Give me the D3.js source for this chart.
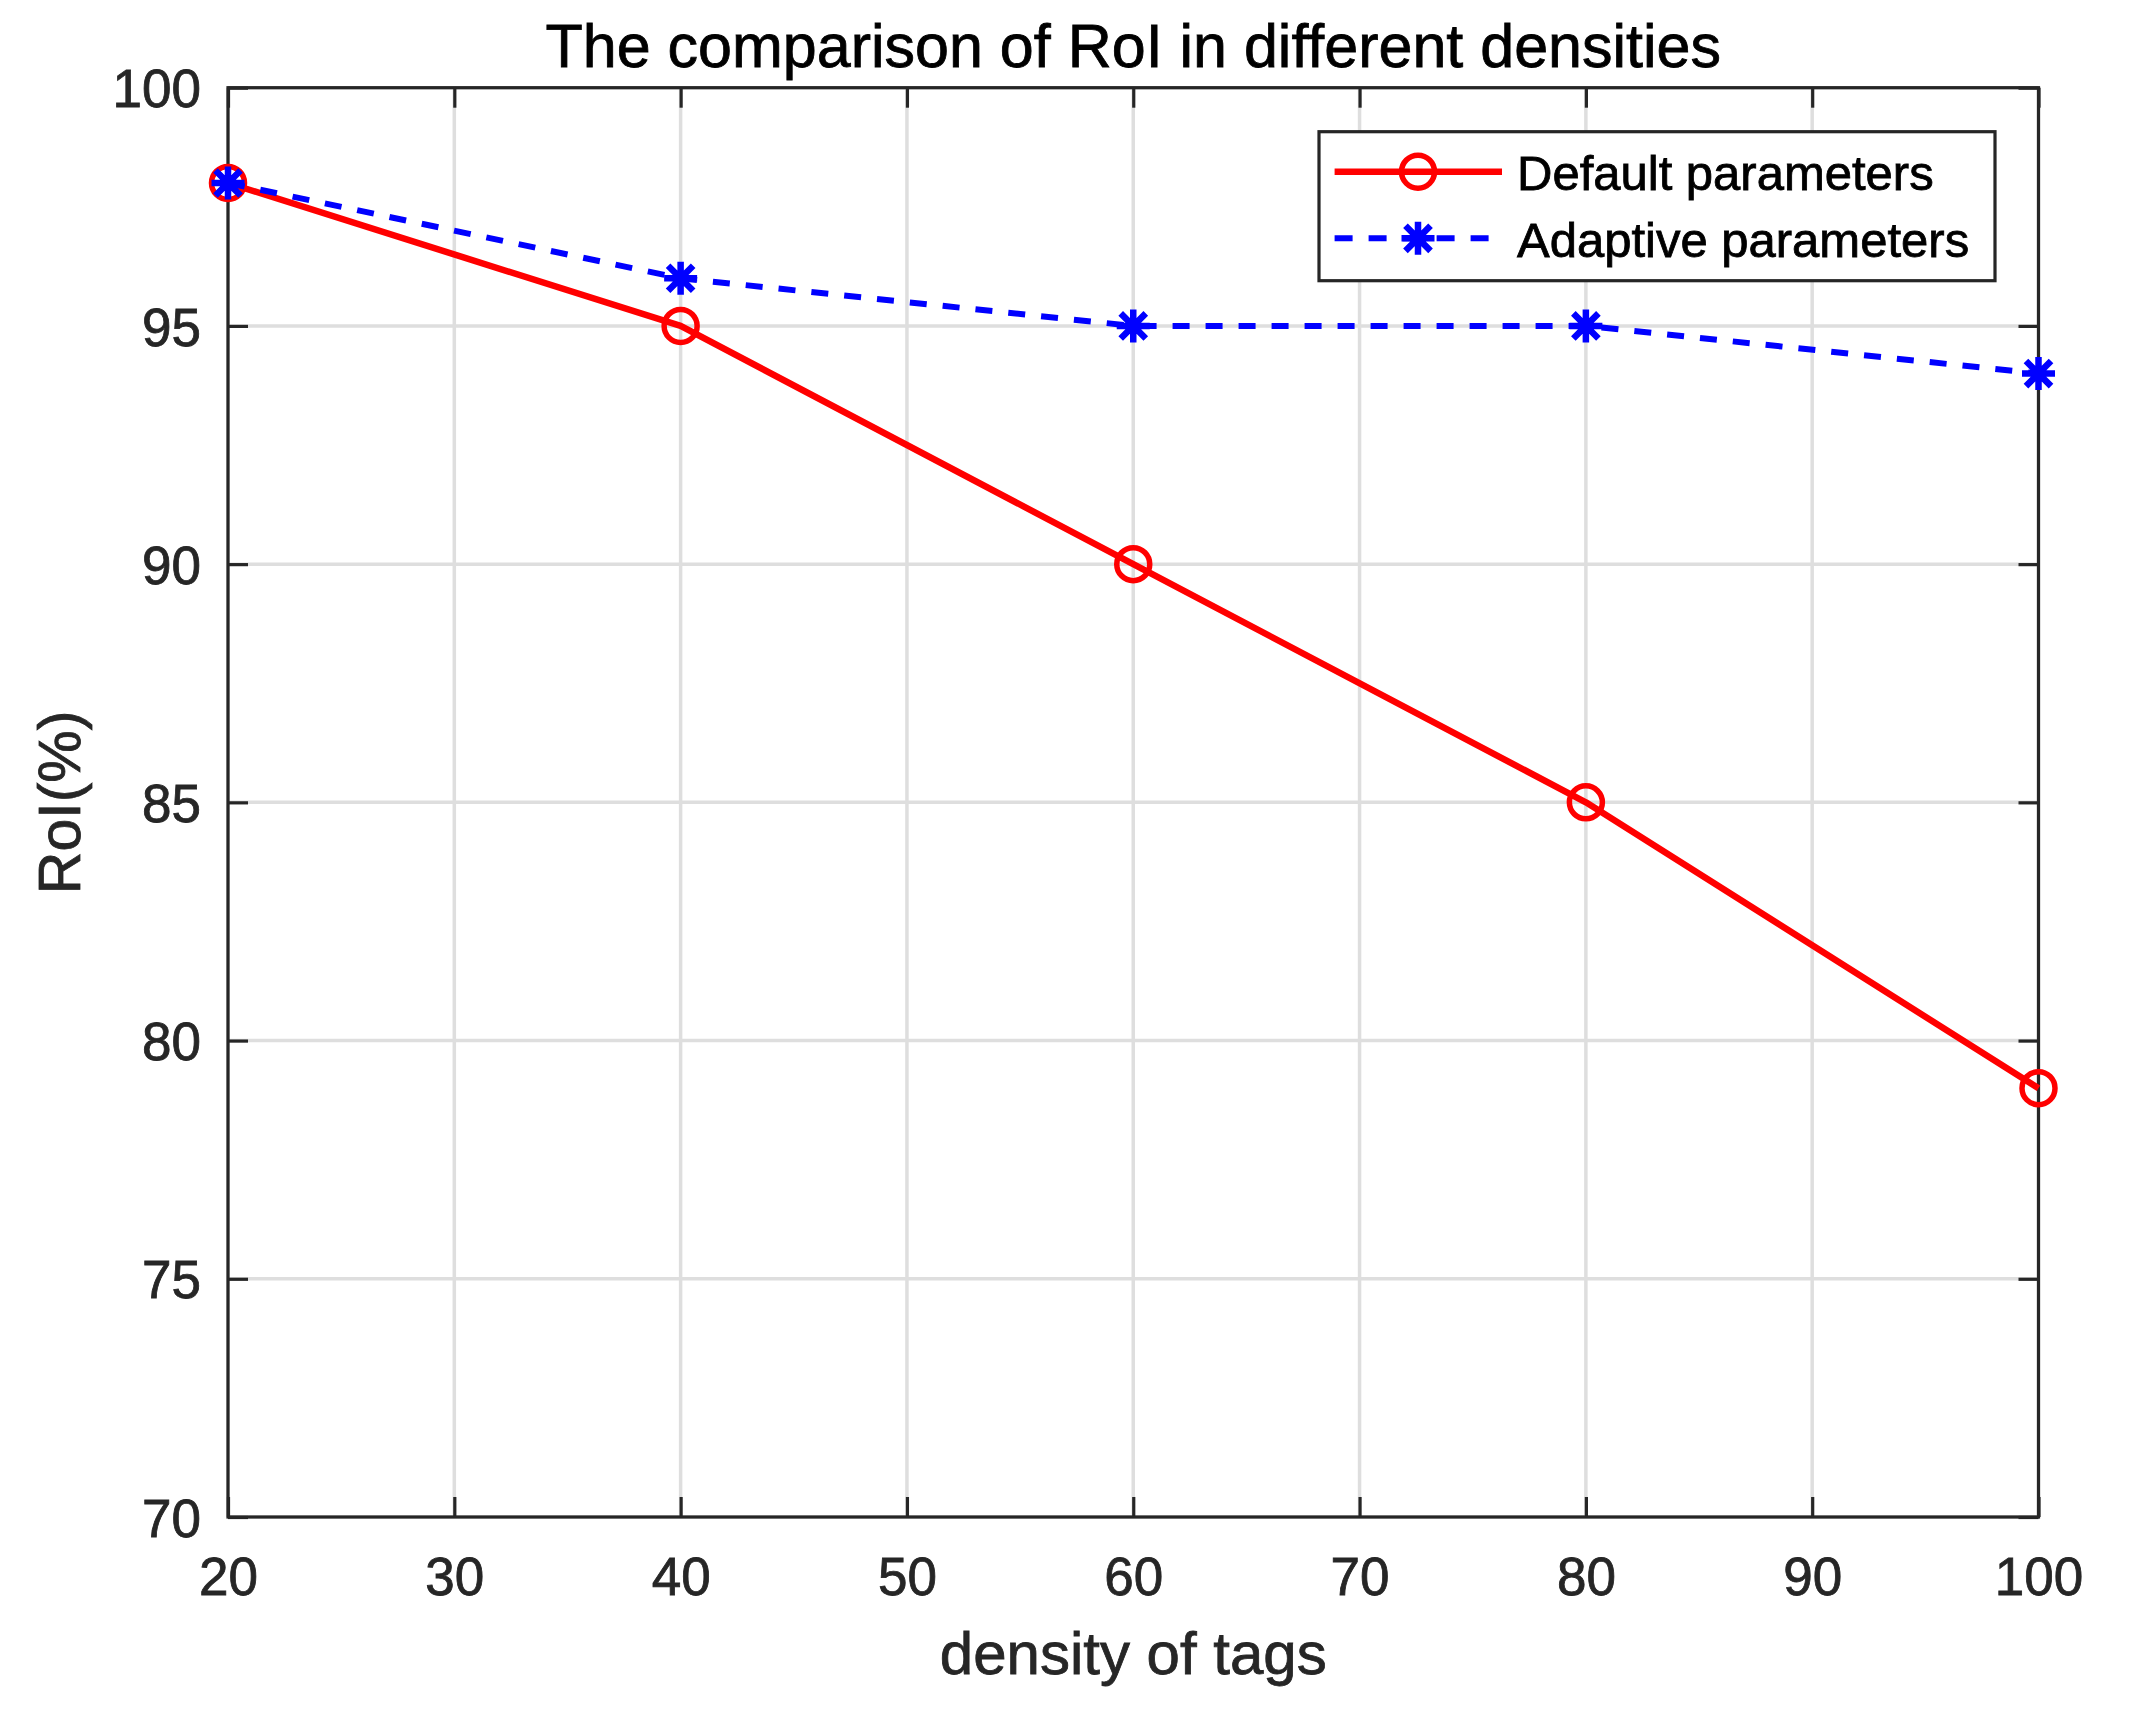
<!DOCTYPE html>
<html>
<head>
<meta charset="utf-8">
<script src="https://cdn.jsdelivr.net/npm/d3@7/dist/d3.min.js"></script>
<style>
  html, body { margin: 0; padding: 0; background: #fff; }
  svg { display: block; }
  text { font-family: "Liberation Sans", Arial, Helvetica, sans-serif; }
</style>
</head>
<body>
<svg id="chart" width="2134" height="1710"></svg>
<script>
// ---- data ----
const densities = [20, 40, 60, 80, 100];
const defaultParams = [98, 95, 90, 85, 79];
const adaptiveParams = [98, 96, 95, 95, 94];
const xTicks = [20, 30, 40, 50, 60, 70, 80, 90, 100];
const yTicks = [70, 75, 80, 85, 90, 95, 100];
const seriesNames = ["Default parameters", "Adaptive parameters"];
const titleText = "The comparison of RoI in different densities";
const xLabelText = "density of tags";
const yLabelText = "RoI(%)";

// ---- layout ----
const W = 2134, H = 1710;
const pLeft = 228, pRight = 2038.5, pTop = 87.7, pBottom = 1517;
const axisColor = "#262626";
const textStroke = 0.8;

const svg = d3.select("#chart");
svg.append("rect").attr("width", W).attr("height", H).attr("fill", "#fff");

const x = d3.scaleLinear().domain([20, 100]).range([pLeft, pRight]);
const y = d3.scaleLinear().domain([70, 100]).range([pBottom, pTop]);

// grid
const grid = svg.append("g");
grid.selectAll(".gx").data(xTicks).join("line")
  .attr("x1", d => x(d)).attr("x2", d => x(d))
  .attr("y1", pTop).attr("y2", pBottom)
  .attr("stroke", "#dedede").attr("stroke-width", 3.5);
grid.selectAll(".gy").data(yTicks).join("line")
  .attr("x1", pLeft).attr("x2", pRight)
  .attr("y1", d => y(d)).attr("y2", d => y(d))
  .attr("stroke", "#dedede").attr("stroke-width", 3.5);

// axes with inward ticks on all four sides
const tickLen = 20;
function styleAxis(g) {
  g.select(".domain").remove();
  g.selectAll(".tick line").attr("stroke", axisColor).attr("stroke-width", 3.2);
}
const xAxisB = d3.axisBottom(x).tickValues(xTicks).tickSizeInner(-tickLen).tickSizeOuter(0).tickPadding(0).tickFormat(d3.format("d"));
const gxb = svg.append("g").attr("transform", `translate(0,${pBottom})`).call(xAxisB);
styleAxis(gxb);
gxb.selectAll(".tick text").attr("y", 78).attr("dy", null)
  .attr("font-size", 53).attr("fill", axisColor)
  .attr("stroke", axisColor).attr("stroke-width", textStroke);

const xAxisT = d3.axisTop(x).tickValues(xTicks).tickSizeInner(-tickLen).tickSizeOuter(0).tickFormat("");
const gxt = svg.append("g").attr("transform", `translate(0,${pTop})`).call(xAxisT);
styleAxis(gxt);

const yAxisL = d3.axisLeft(y).tickValues(yTicks).tickSizeInner(-tickLen).tickSizeOuter(0).tickFormat(d3.format("d"));
const gyl = svg.append("g").attr("transform", `translate(${pLeft},0)`).call(yAxisL);
styleAxis(gyl);
gyl.selectAll(".tick text").attr("x", -27).attr("dy", "0.36em")
  .attr("font-size", 53).attr("fill", axisColor)
  .attr("stroke", axisColor).attr("stroke-width", textStroke);

const yAxisR = d3.axisRight(y).tickValues(yTicks).tickSizeInner(-tickLen).tickSizeOuter(0).tickFormat("");
const gyr = svg.append("g").attr("transform", `translate(${pRight},0)`).call(yAxisR);
styleAxis(gyr);

// frame
svg.append("rect").attr("x", pLeft).attr("y", pTop)
  .attr("width", pRight - pLeft).attr("height", pBottom - pTop)
  .attr("fill", "none").attr("stroke", axisColor).attr("stroke-width", 3.2);

// series
const redData = densities.map((d, i) => [d, defaultParams[i]]);
const blueData = densities.map((d, i) => [d, adaptiveParams[i]]);
const line = d3.line().x(d => x(d[0])).y(d => y(d[1]));

svg.append("path").datum(redData).attr("d", line)
  .attr("fill", "none").attr("stroke", "#ff0000").attr("stroke-width", 6.5)
  .attr("stroke-linejoin", "round");
svg.selectAll(".circ").data(redData).join("circle")
  .attr("cx", d => x(d[0])).attr("cy", d => y(d[1])).attr("r", 16.5)
  .attr("fill", "none").attr("stroke", "#ff0000").attr("stroke-width", 5.5);

svg.append("path").datum(blueData).attr("d", line)
  .attr("fill", "none").attr("stroke", "#0000ff").attr("stroke-width", 6)
  .attr("stroke-dasharray", "17,16");

function starPath(r) {
  const d = r * 0.76;
  return `M${-r},0L${r},0M0,${-r}L0,${r}M${-d},${-d}L${d},${d}M${-d},${d}L${d},${-d}`;
}
svg.selectAll(".star").data(blueData).join("path")
  .attr("transform", d => `translate(${x(d[0])},${y(d[1])})`)
  .attr("d", starPath(16.5))
  .attr("fill", "none").attr("stroke", "#0000ff").attr("stroke-width", 6.5);

// title and labels
svg.append("text").attr("x", (pLeft + pRight) / 2).attr("y", 67)
  .attr("text-anchor", "middle").attr("font-size", 61).attr("fill", "#000")
  .attr("stroke", "#000").attr("stroke-width", textStroke)
  .text(titleText);
svg.append("text").attr("x", (pLeft + pRight) / 2).attr("y", 1674)
  .attr("text-anchor", "middle").attr("font-size", 60).attr("fill", axisColor)
  .attr("stroke", axisColor).attr("stroke-width", textStroke)
  .text(xLabelText);
svg.append("text")
  .attr("transform", `translate(80,${(pTop + pBottom) / 2}) rotate(-90)`)
  .attr("text-anchor", "middle").attr("font-size", 59).attr("fill", axisColor)
  .attr("stroke", axisColor).attr("stroke-width", textStroke)
  .text(yLabelText);

// legend
const lg = svg.append("g");
lg.append("rect").attr("x", 1319).attr("y", 131.7).attr("width", 1995 - 1319).attr("height", 280.7 - 131.7)
  .attr("fill", "#fff").attr("stroke", axisColor).attr("stroke-width", 3.2);
const rowY = [171.7, 238.3];
lg.append("line").attr("x1", 1334.6).attr("x2", 1502).attr("y1", rowY[0]).attr("y2", rowY[0])
  .attr("stroke", "#ff0000").attr("stroke-width", 6.5);
lg.append("circle").attr("cx", 1418).attr("cy", rowY[0]).attr("r", 16.5)
  .attr("fill", "none").attr("stroke", "#ff0000").attr("stroke-width", 5.5);
lg.append("line").attr("x1", 1334.6).attr("x2", 1502).attr("y1", rowY[1]).attr("y2", rowY[1])
  .attr("stroke", "#0000ff").attr("stroke-width", 6).attr("stroke-dasharray", "18,16");
lg.append("path").attr("transform", `translate(1418,${rowY[1]})`).attr("d", starPath(16.5))
  .attr("fill", "none").attr("stroke", "#0000ff").attr("stroke-width", 6.5);
lg.selectAll(".lt").data(seriesNames).join("text")
  .attr("x", 1517).attr("y", (d, i) => rowY[i] + 18.5)
  .attr("font-size", 49).attr("fill", "#000")
  .attr("stroke", "#000").attr("stroke-width", textStroke)
  .text(d => d);
</script>
</body>
</html>
